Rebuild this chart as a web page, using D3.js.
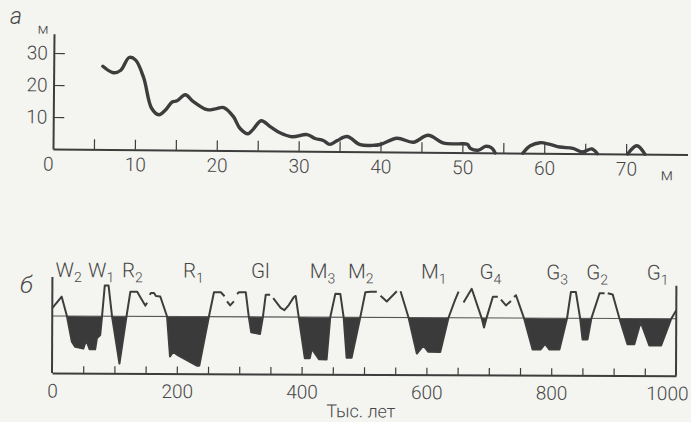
<!DOCTYPE html>
<html><head><meta charset="utf-8">
<script src="https://cdn.jsdelivr.net/npm/d3@7/dist/d3.min.js"></script>
<style>
html,body{margin:0;padding:0;background:#f4f4f0;}
svg{display:block;}
text{font-family:Roboto,"DejaVu Sans",sans-serif;font-weight:300;fill:#474747;}
</style></head><body>
<svg id="c" width="691" height="422"></svg>
<script>
// ---- Panel а: distance (m) vs height (m)
const aDist   = [6, 7.3, 8.2, 9.2, 10, 11, 12, 12.9, 13.7, 14.5, 15.1, 16.1, 17.1, 18.8, 19.8, 20.8, 22, 22.8, 23.8, 24.4, 25.4, 26.5, 27.7, 29.2, 31, 32, 33, 33.8, 34.7, 35.9, 37.5, 39, 40, 42, 44, 45.8, 47.7, 49.4, 50.6, 51, 52, 52.8, 53.6, 54, 55, 57.4, 58.3, 59.5, 60.7, 61.9, 63.5, 64.7, 65.8, 66.5, 68, 70.2, 71.3, 72.3];
const aHeight = [26, 24, 24.8, 28.8, 28, 22.5, 13, 11, 12.5, 15, 15.4, 17.3, 15.2, 12.7, 13, 13.4, 10.6, 7, 5.3, 6.6, 9.4, 7.6, 5.7, 4.5, 5.2, 4, 3.4, 2.2, 3.4, 4.7, 2.2, 2, 2.3, 4.3, 3.1, 5.3, 2.9, 2.7, 2.6, 1.3, 0.8, 2, 1.5, 0, null, 0, 2.3, 3.3, 2.8, 2, 1.6, 0.5, 1.5, 0, null, 0, 2.6, 0];
const aXTicks = [5,10,15,20,25,30,35,40,45,50,55,60,65,70];
const aXLabels = [0,10,20,30,40,50,60,70];
const aYTicks = [10,20,30];

// ---- Panel б: time (thousand years) vs relative level (null = break in the line)
const bTime = [
  0,15,23.5,31.6,37,50,54.6,60,69,71.7,77,79.8,84,90,95.8,108,119,125,136,142,149,152,
  154,
  156,158,163,166,173,184,189,194,202,232,236,251,259,270,276,
  278,
  280,285,291,
  293,
  296,299,310,315,319,333,337.6,342,349,
  351,
  354,366,372,379,387,390,395,405,413,416,419,428,440,445.5,453.5,461.5,467,472,480,493.6,501.6,510,520,
  523,
  526,536,552,
  555,
  558,571,584.5,595,603,622,635,645,651,
  655,
  659,672,688,692,696,706,714,
  716,
  719,727,735,
  737,
  740,743,756,770,783,790,797,813,825,831,839,846,850,858,864,877,885,
  887,
  890,898,909,922,933,943,957,976,992,1000];
const bLevel = [
  0.14,0.34,0,-0.45,-0.54,-0.57,-0.42,-0.58,-0.58,-0.39,-0.33,0,0.54,0.54,0,-0.83,0,0.43,0.43,0.32,0.19,0.24,
  null,
  0.38,0.41,0.41,0.36,0.35,0,-0.70,-0.62,-0.68,-0.86,-0.86,0,0.43,0.43,0.36,
  null,
  0.27,0.20,0.27,
  null,
  0.40,0.43,0.43,0,-0.27,-0.30,0,0.39,0.39,
  null,
  0.33,0.16,0.12,0.21,0.35,0.37,0,-0.72,-0.72,-0.57,-0.60,-0.74,-0.74,0,0.41,0.41,0,-0.71,-0.71,0,0.44,0.45,0.45,
  null,
  0.38,0.28,0.46,
  null,
  0.46,0,-0.63,-0.49,-0.60,-0.60,0,0.30,0.46,
  null,
  0.27,0.51,0,-0.17,0,0.37,0.37,
  null,
  0.32,0.22,0.30,
  null,
  0.37,0.40,0,-0.55,-0.55,-0.45,-0.55,-0.55,0,0.46,0.46,0,-0.37,-0.37,0,0.44,0.44,
  null,
  0.44,0.42,0,-0.45,-0.45,-0.06,-0.47,-0.47,0,0.15];
const bStages = ["W|2","W|1","R|2","R|1","Gl|","M|3","M|2","M|1","G|4","G|3","G|2","G|1"];
const bStageTime = [26,78,128,226,333,433,494,611,702,809,873,970];
const bXTicks = d3.range(50,1000,50);
const bXLabels = [0,200,400,600,800,1000];

const ink = "#3d3d3d";
const svg = d3.select("#c");

// ===== Panel а =====
const xa = d3.scaleLinear().domain([0,77.5]).range([53, 687.5]);
const ya = d3.scaleLinear().domain([0,36]).range([149, 33.8]);
const ga = svg.append("g").attr("transform","rotate(0.5,53,149)");

const axA = d3.axisBottom(xa).tickValues([0, ...aXTicks]).tickSizeInner(-10).tickSizeOuter(0).tickPadding(8)
  .tickFormat(d => aXLabels.includes(d) ? d : "");
const gxa = ga.append("g").attr("transform",`translate(0,${ya(0)})`).call(axA);
gxa.select(".domain").attr("stroke",ink).attr("stroke-width",2);
gxa.selectAll(".tick line").attr("stroke",ink).attr("stroke-width",1.2).filter(d=>d===0).remove();
gxa.selectAll(".tick text").attr("font-size",19).attr("fill","#474747").attr("font-family",null)
   .attr("dx", d => d===0 ? -5 : 0);
ga.append("text").attr("x", xa(75)).attr("y", ya(0)+26).attr("text-anchor","middle").attr("font-size",17).text("м");

const ayA = d3.axisLeft(ya).tickValues(aYTicks).tickSizeInner(-11).tickSizeOuter(0).tickPadding(6);
const gya = ga.append("g").attr("transform",`translate(${xa(0)},0)`).call(ayA);
gya.select(".domain").attr("stroke",ink).attr("stroke-width",2);
gya.selectAll(".tick line").attr("stroke",ink).attr("stroke-width",1.2);
gya.selectAll(".tick text").attr("font-size",19).attr("fill","#474747").attr("font-family",null);
ga.append("text").attr("x", 42).attr("y", 34).attr("text-anchor","middle").attr("font-size",15).text("м");
svg.append("text").attr("x",10).attr("y",24).attr("font-size",23).attr("font-style","italic")
  .attr("font-family","'Liberation Serif',serif").text("а");

const aData = aDist.map((d,i)=>({x:d, v:aHeight[i]}));
const lineA = d3.line().defined(d=>d.v!==null).x(d=>xa(d.x)).y(d=>ya(d.v)).curve(d3.curveCatmullRom.alpha(0.5));
ga.append("path").datum(aData).attr("d",lineA).attr("fill","none").attr("stroke",ink)
  .attr("stroke-width",3.4).attr("stroke-linejoin","round").attr("stroke-linecap","round");

// ===== Panel б =====
const xb = d3.scaleLinear().domain([0,1000]).range([52, 676]);
const yb = d3.scaleLinear().domain([-1,0.6]).range([373, 281.8]);
const gb = svg.append("g").attr("transform","rotate(0.25,52,373)");

const bData = bTime.map((t,i)=>({t, v:bLevel[i]}));
const areaB = d3.area().defined(d=>d.v!==null).x(d=>xb(d.t)).y0(yb(0)).y1(d=>yb(Math.min(d.v,0)));
gb.append("path").datum(bData).attr("d",areaB).attr("fill","#3a3a3a");

gb.append("line").attr("x1",xb(0)).attr("x2",xb(1000)).attr("y1",yb(0)).attr("y2",yb(0))
  .attr("stroke","#555").attr("stroke-width",1.1);

const lineB = d3.line().defined(d=>d.v!==null).x(d=>xb(d.t)).y(d=>yb(d.v));
gb.append("path").datum(bData).attr("d",lineB).attr("fill","none").attr("stroke",ink)
  .attr("stroke-width",2).attr("stroke-linejoin","round");

const axB = d3.axisBottom(xb).tickValues([...bXTicks, 0, 1000]).tickSizeInner(-7).tickSizeOuter(0).tickPadding(11)
  .tickFormat(d => bXLabels.includes(d) ? d : "");
const gxb = gb.append("g").attr("transform",`translate(0,${yb(-1)})`).call(axB);
gxb.select(".domain").attr("stroke",ink).attr("stroke-width",2);
gxb.selectAll(".tick line").attr("stroke",ink).attr("stroke-width",1.2).filter(d=>d===0||d===1000).remove();
gxb.selectAll(".tick text").attr("font-size",19).attr("fill","#474747").attr("font-family",null)
  .attr("dx", d => d===1000 ? -9 : 0);
gb.append("line").attr("x1",xb(0)).attr("x2",xb(0)).attr("y1",yb(-1)).attr("y2",277).attr("stroke",ink).attr("stroke-width",2);
gb.append("line").attr("x1",xb(1000)).attr("x2",xb(1000)).attr("y1",yb(-1)).attr("y2",283).attr("stroke",ink).attr("stroke-width",2);

gb.append("text").attr("x", xb(500)-3).attr("y", 416).attr("text-anchor","middle").attr("font-size",18).text("Тыс. лет");
svg.append("text").attr("x",20).attr("y",293).attr("font-size",24).attr("font-style","italic")
  .attr("font-family","'Liberation Serif',serif").text("б");

bStages.forEach((s,i)=>{
  const [main, sub] = s.split("|");
  const t = gb.append("text").attr("x", xb(bStageTime[i])).attr("y", 277).attr("text-anchor","middle").attr("font-size",20.5);
  t.append("tspan").text(main);
  if (sub) t.append("tspan").attr("font-size",14).attr("dy",5).text(sub);
});
</script></body></html>
